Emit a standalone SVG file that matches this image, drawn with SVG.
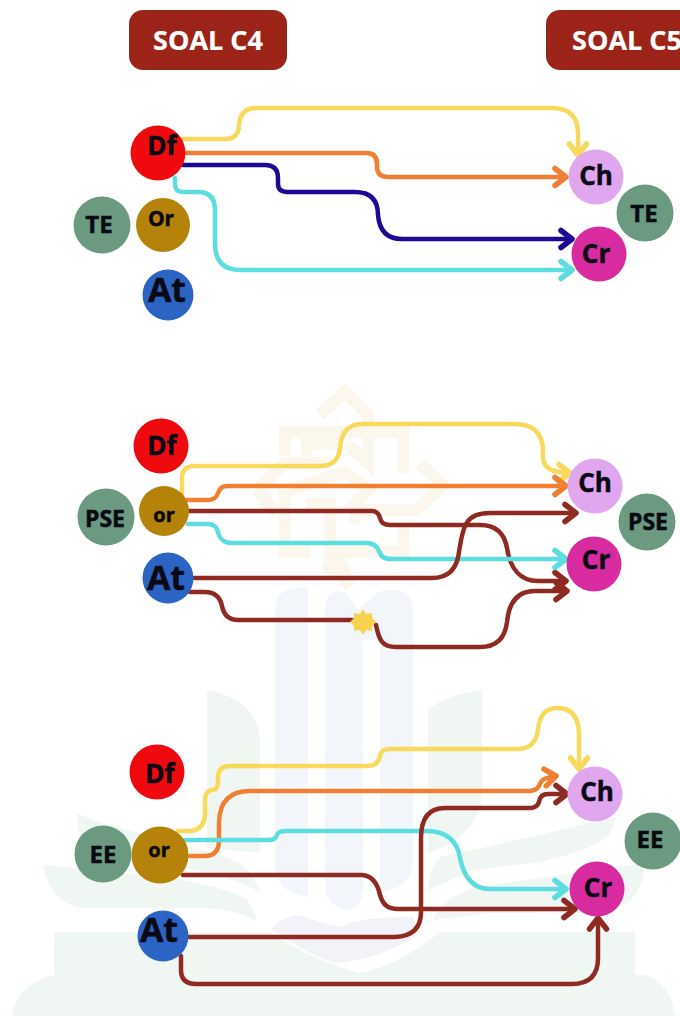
<svg xmlns="http://www.w3.org/2000/svg" width="680" height="1016" viewBox="0 0 680 1016">
<style>
text{font-family:"Open Sans","Noto Sans",sans-serif;font-weight:700;text-anchor:middle;fill:#0a0a14;stroke:#0a0a14;stroke-width:.5}
.hd{fill:#fff;stroke:#fff;stroke-width:.2;font-size:27px}
.btn{fill:#9b2318}
.c{fill:none;stroke-width:4.5;stroke-linecap:round;stroke-linejoin:round}
.y{stroke:#f8d95b;marker-end:url(#my)}
.o{stroke:#ee7f33;marker-end:url(#mo)}
.n{stroke:#1d0a92;marker-end:url(#mn)}
.a{stroke:#5cdde0;marker-end:url(#ma)}
.b{stroke:#8f2a22;marker-end:url(#mb)}
.b0{stroke:#8f2a22}
.hy{fill:none;stroke:#f8d95b}.ho{fill:none;stroke:#ee7f33}.hn{fill:none;stroke:#1d0a92}.ha{fill:none;stroke:#5cdde0}.hb{fill:none;stroke:#8f2a22}
.red{fill:#ee0a0f}.grn{fill:#6b9a80}.gold{fill:#b5830a}.blu{fill:#2c64c4}.lil{fill:#e0a6ee}.mag{fill:#d72b9f}
.wb{fill:#f2f6fb}.wg{fill:#f0f6f2}
</style>
<defs>
<marker id="my" markerUnits="userSpaceOnUse" markerWidth="30" markerHeight="30" refX="15" refY="15" orient="auto" overflow="visible"><path class="hy" d="M4,6.5L15,15L4,23.5" stroke-width="5.5" stroke-linecap="round" stroke-linejoin="round"/></marker>
<marker id="mo" markerUnits="userSpaceOnUse" markerWidth="30" markerHeight="30" refX="15" refY="15" orient="auto" overflow="visible"><path class="ho" d="M4,6.5L15,15L4,23.5" stroke-width="5.5" stroke-linecap="round" stroke-linejoin="round"/></marker>
<marker id="mn" markerUnits="userSpaceOnUse" markerWidth="30" markerHeight="30" refX="15" refY="15" orient="auto" overflow="visible"><path class="hn" d="M4,6.5L15,15L4,23.5" stroke-width="5.5" stroke-linecap="round" stroke-linejoin="round"/></marker>
<marker id="ma" markerUnits="userSpaceOnUse" markerWidth="30" markerHeight="30" refX="15" refY="15" orient="auto" overflow="visible"><path class="ha" d="M4,6.5L15,15L4,23.5" stroke-width="5.5" stroke-linecap="round" stroke-linejoin="round"/></marker>
<marker id="mb" markerUnits="userSpaceOnUse" markerWidth="30" markerHeight="30" refX="15" refY="15" orient="auto" overflow="visible"><path class="hb" d="M4,6.5L15,15L4,23.5" stroke-width="5.5" stroke-linecap="round" stroke-linejoin="round"/></marker>
</defs>
<rect width="680" height="1016" fill="#fff"/>
<g id="watermark">
<g transform="translate(240 380) scale(.3333)" fill="none" stroke="#fbf7ed" stroke-width="36">
<path d="M240,105L315,35L385,105V250L320,190"/>
<path d="M135,230V155H490V280"/>
<path d="M200,230V190H300"/>
<path d="M50,330L135,250H260"/>
<path d="M50,330L110,400"/>
<path d="M135,330V515H210"/>
<path d="M150,330L315,275L385,330L320,395"/>
<path d="M540,250L610,315L530,390H345V430"/>
<path d="M490,440V515H300V540L330,615L255,545"/>
<path d="M200,370H270V580"/>
</g>
<path class="wb" d="M275,612Q275,588 298,588H308V897Q275,892 275,865Z"/>
<path class="wb" d="M325,612Q325,588 345,592L358,610L378,592Q413,582 413,612V860Q413,888 380,892V640H363V885Q363,910 344,910Q325,905 325,880Z"/>
<path class="wg" d="M207,690Q260,700 260,745V853L207,848Z"/>
<path class="wg" d="M428,710Q445,695 482,690V790Q482,835 428,853Z"/>
<path class="wg" d="M77,813C110,830 200,845 240,863Q255,875 260,892Q235,878 183,868L90,862Q77,840 77,813Z"/>
<path class="wg" d="M43,865Q120,872 180,880Q235,890 247,900Q255,910 256,921Q235,908 200,908H85Q50,905 43,865Z"/>
<path class="wg" d="M428,890Q430,865 440,857L473,850L617,817L610,833Q600,848 540,862L473,870Z"/>
<path class="wg" d="M433,920Q440,900 473,888L643,863Q645,890 627,903Q600,913 573,913H490Z"/>
<path fill="#f1f3f9" d="M272,928Q285,915 300,915Q320,923 340,927Q355,917 413,917L420,933Q385,957 340,963Q320,962 272,930Z"/>
<path class="wg" d="M54,932H270Q310,960 360,973Q400,965 440,932H635V975H645Q672,985 675,1016H13Q15,985 54,975Z"/>
</g>
<g id="connectors">
<path class="c y" d="M183,139H225Q238,139 239,126Q240,108 256,108H552Q578,108 578,134V155"/>
<path class="c o" d="M187,153H366Q377,153 377,164V168Q378,177 388,177H566"/>
<path class="c n" d="M183,165H265Q278,165 278,178V184Q278,192 288,192H355Q378,192 378,215Q380,239 402,239H572"/>
<path class="c a" d="M175,178V184Q175,192 183,192H198Q215,192 215,210V244Q215,270 241,270H572"/>

<path class="c y" d="M182,495V478Q182,466 195,466H320Q338,466 340,448Q342,424 362,424H515Q543,424 543,452V458Q544,473 570,473"/>
<path class="c o" d="M187,500H208Q216,500 218,493C220,488 222,486 228,486H566"/>
<path class="c b" d="M188,511H372Q378,511 380,518C381,523 384,525 390,525H480Q503,525 507,548C510,568 520,581 538,581H566"/>
<path class="c a" d="M188,524H208Q216,524 218,532C220,540 224,543 232,543H366Q376,543 379,551C381,557 384,559 392,559H566"/>
<path class="c b" d="M194,578H432Q456,578 459,552C463,525 466,513 490,513H576"/>
<path class="c b0" d="M190,592H205Q219,592 222,606C224,616 230,620 238,620H352"/>
<path class="c b" d="M376,625C379,640 382,647 396,647H480Q504,647 507,622Q510,591 535,591H567"/>

<path class="c y" d="M178,831H190Q204,830 205,815V800Q205,791 212,790Q218,790 218,782V776Q219,766 230,766H368Q378,766 380,756Q381,749 390,749H518Q535,749 538,730Q540,708 557,708Q579,708 579,735V769"/>
<path class="c o" d="M190,856H205Q218,856 219,842V822Q220,791 250,791H530Q538,790 540,784Q541,778 556,776"/>
<path class="c a" d="M185,840H268Q276,840 277,835Q278,831 286,831H428Q456,832 460,858C464,878 474,889 490,889H566"/>
<path class="c b" d="M183,875H362Q376,876 380,895C383,905 388,909 398,909H575"/>
<path class="c b" d="M189,937H395Q421,936 421,912V838Q421,808 445,808H530Q537,808 539,802Q540,794 548,794H567"/>
<path class="c b" d="M181,956V970Q181,984 196,984H572Q598,984 598,958V918"/>
</g>
<g id="star"><polygon fill="#f5d34f" points="363,609 366,614 372,613 372,618 376,622 372,626 372,631 366,630 363,635 360,630 354,631 354,626 350,622 354,618 354,613 360,614"/></g>

<g id="soal-c4"><rect class="btn" x="129" y="10" width="158" height="60" rx="14"/><text class="hd" x="208" y="50">SOAL C4</text></g>
<g id="soal-c5"><rect class="btn" x="546" y="10" width="150" height="60" rx="14"/><text class="hd" x="627" y="50">SOAL C5</text></g>

<g id="n1-df"><circle class="red" cx="158" cy="153" r="27.5"/><text x="162" y="155" font-size="26">Df</text></g>
<g id="n1-te"><circle class="grn" cx="102" cy="225" r="28.5"/><text x="99" y="233" font-size="24">TE</text></g>
<g id="n1-or"><circle class="gold" cx="163" cy="225" r="27"/><text x="161" y="226" font-size="21">Or</text></g>
<g id="n1-at"><circle class="blu" cx="168" cy="295" r="25.5"/><text x="167" y="302" font-size="34">At</text></g>
<g id="n1-ch"><circle class="lil" cx="596" cy="177" r="27.5"/><text x="596" y="185" font-size="26">Ch</text></g>
<g id="n1-te2"><circle class="grn" cx="645" cy="213" r="28.5"/><text x="644" y="222" font-size="24">TE</text></g>
<g id="n1-cr"><circle class="mag" cx="599" cy="254" r="27.5"/><text x="596" y="263" font-size="26">Cr</text></g>

<g id="n2-df"><circle class="red" cx="161" cy="446" r="27.5"/><text x="162" y="455" font-size="26">Df</text></g>
<g id="n2-pse"><circle class="grn" cx="106" cy="517" r="28.5"/><text x="105" y="527" font-size="23">PSE</text></g>
<g id="n2-or"><circle class="gold" cx="164" cy="511" r="25"/><text x="164" y="522" font-size="20">or</text></g>
<g id="n2-at"><circle class="blu" cx="168" cy="578" r="25.5"/><text x="166" y="590" font-size="34">At</text></g>
<g id="n2-ch"><circle class="lil" cx="595" cy="486" r="27.5"/><text x="595" y="492" font-size="26">Ch</text></g>
<g id="n2-pse2"><circle class="grn" cx="647" cy="522" r="28.5"/><text x="648" y="530" font-size="23">PSE</text></g>
<g id="n2-cr"><circle class="mag" cx="594" cy="564" r="27.5"/><text x="596" y="569" font-size="26">Cr</text></g>

<g id="n3-df"><circle class="red" cx="157" cy="772" r="27.5"/><text x="160" y="783" font-size="26">Df</text></g>
<g id="n3-ee"><circle class="grn" cx="103" cy="854" r="28.5"/><text x="103" y="863" font-size="24">EE</text></g>
<g id="n3-or"><circle class="gold" cx="160" cy="855" r="28.5"/><text x="159" y="857" font-size="20">or</text></g>
<g id="n3-at"><circle class="blu" cx="163" cy="936" r="25.5"/><text x="159" y="942" font-size="34">At</text></g>
<g id="n3-ch"><circle class="lil" cx="595" cy="794" r="27.5"/><text x="597" y="801" font-size="26">Ch</text></g>
<g id="n3-ee2"><circle class="grn" cx="653" cy="841" r="28.5"/><text x="650" y="848" font-size="24">EE</text></g>
<g id="n3-cr"><circle class="mag" cx="597" cy="889" r="27.5"/><text x="598" y="897" font-size="26">Cr</text></g>
</svg>
